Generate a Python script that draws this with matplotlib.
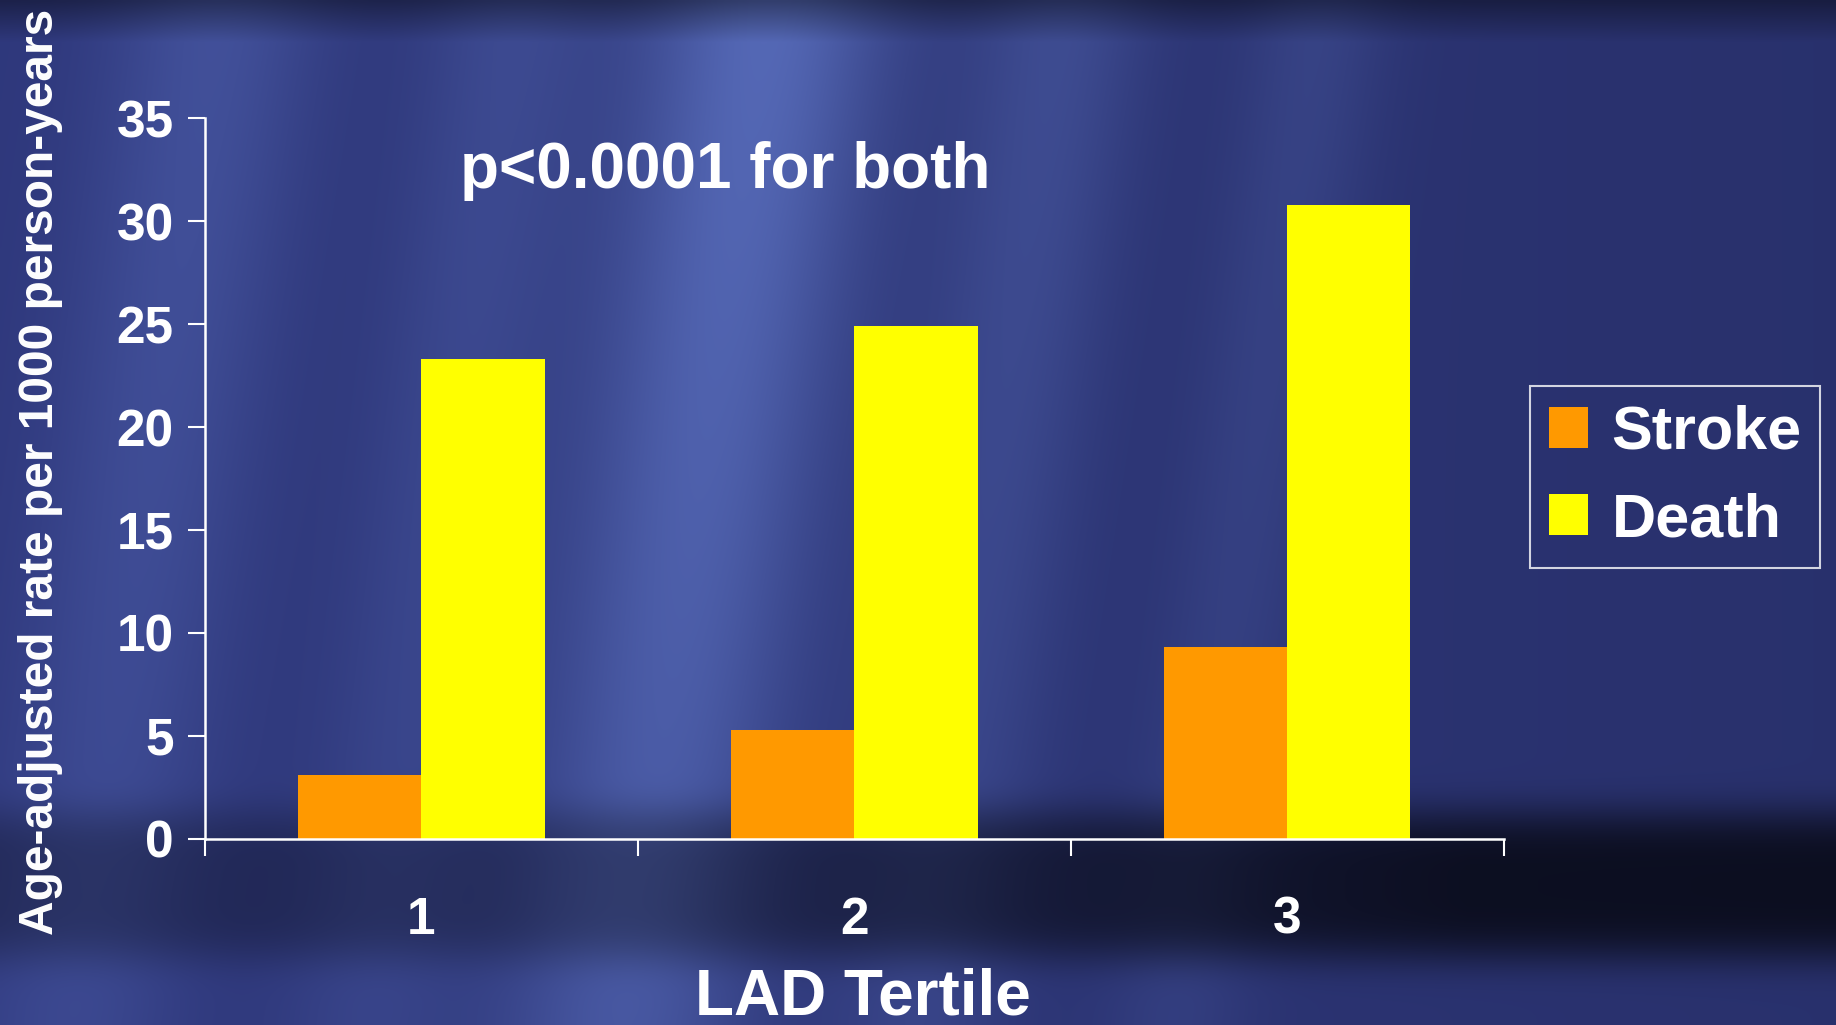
import numpy as np
import matplotlib
matplotlib.use("Agg")
import matplotlib.pyplot as plt

# data
tertiles = ["1", "2", "3"]
stroke = [3.1, 5.3, 9.3]
death = [23.3, 24.9, 30.8]
series_names = ["Stroke", "Death"]
y_ticks = [0, 5, 10, 15, 20, 25, 30, 35]

plt.rcParams['font.family'] = ['Liberation Sans', 'DejaVu Sans']
plt.rcParams['font.weight'] = 'bold'

# slide-like blue background with soft light streaks
W, H = 720, 400
U, V = np.meshgrid(np.linspace(0, 1, W), np.linspace(0, 1, H))
s = U + 0.08 * V
bright = (0.95 * np.exp(-((s - 0.42) / 0.07) ** 2)
          + 0.45 * np.exp(-((s - 0.12) / 0.06) ** 2)
          + 0.45 * np.exp(-((s - 0.58) / 0.05) ** 2)
          + 0.35 * np.exp(-((s - 0.28) / 0.05) ** 2)
          + 0.3 * np.exp(-((s - 0.72) / 0.04) ** 2))
bright *= (1 - 0.35 * V)
t = np.clip(0.1 + 0.8 * bright, 0, 1)
c0 = np.array([0.16, 0.19, 0.45])
c1 = np.array([0.38, 0.47, 0.80])
img = c0 + t[..., None] * (c1 - c0)
img *= (0.6 + 0.4 * np.clip(V / 0.04, 0, 1))[..., None]
img *= (1 - 0.12 * U)[..., None]
dark = np.exp(-((V - 0.865) / 0.075) ** 4) * (0.3 + 0.4 * np.clip((U - 0.3) / 0.5, 0, 1))
img *= (1 - dark)[..., None]
img = np.clip(img, 0, 1)

fig = plt.figure(figsize=(18.36, 10.25), dpi=100)
bg = fig.add_axes([0, 0, 1, 1], zorder=0)
bg.imshow(img, extent=[0, 1, 0, 1], aspect='auto', interpolation='bilinear')
bg.axis('off')

ax = fig.add_axes([0.1116, 0.1817, 0.7073, 0.7029], zorder=1)
ax.patch.set_alpha(0)

x = np.arange(1, len(tertiles) + 1)
w = 0.285
b1 = ax.bar(x - w / 2, stroke, w, color='#FF9900', label=series_names[0])
b2 = ax.bar(x + w / 2, death, w, color='#FFFF00', label=series_names[1])

ax.set_xlim(0.5, 3.5)
ax.set_ylim(0, 35)
ax.set_yticks(y_ticks)
ax.set_xticks(np.arange(0.5, 3.6, 1.0))
ax.set_xticklabels([])
ax.set_xticks(x, minor=True)
ax.set_xticklabels(tertiles, minor=True)

for sp in ['top', 'right']:
    ax.spines[sp].set_visible(False)
for sp in ['left', 'bottom']:
    ax.spines[sp].set_color('white')
    ax.spines[sp].set_linewidth(1.8)

ax.tick_params(axis='y', colors='white', length=12.5, width=1.5, pad=10, labelsize=37)
ax.tick_params(axis='x', which='major', colors='white', length=12.5, width=1.5)
ax.tick_params(axis='x', which='minor', colors='white', length=0, pad=41, labelsize=37)
for lab in ax.get_yticklabels() + ax.get_xticklabels(minor=True):
    lab.set_fontweight('bold')

fig.text(0.022, 0.540, "Age-adjusted rate per 1000 person-years", rotation=90,
         color='white', fontsize=34.5, fontweight='bold', ha='center', va='center')
fig.text(0.3948, 0.817, "p<0.0001 for both", color='white', fontsize=46,
         fontweight='bold', ha='center', va='baseline')
fig.text(0.470, 0.010, "LAD Tertile", color='white', fontsize=46,
         fontweight='bold', ha='center', va='baseline')

leg = ax.legend(handles=[b1, b2], loc='upper left', bbox_to_anchor=(0.8335, 0.623),
                bbox_transform=fig.transFigure, borderaxespad=0, fancybox=False,
                frameon=True, prop={'size': 44, 'weight': 'bold'},
                handlelength=0.65, handleheight=0.65, handletextpad=0.38,
                labelspacing=0.5, borderpad=0.3)
leg.get_frame().set_facecolor('none')
leg.get_frame().set_edgecolor('white')
leg.get_frame().set_linewidth(1.5)
for txt in leg.get_texts():
    txt.set_color('white')

fig.savefig("out.png", dpi=100)
